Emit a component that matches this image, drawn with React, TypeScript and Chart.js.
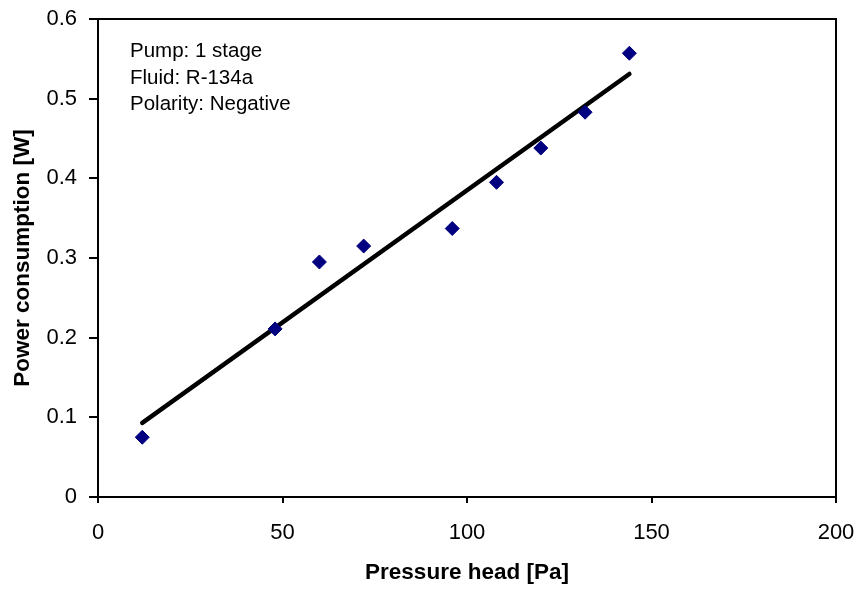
import React, { useEffect, useRef } from "react";
import { Chart, registerables } from "chart.js";

Chart.register(...registerables);

const pressureHead = [12, 48, 60, 72, 96, 108, 120, 132, 144];
const powerConsumption = [0.075, 0.211, 0.295, 0.315, 0.337, 0.395, 0.438, 0.483, 0.557];
const trendX = [12, 144];
const trendY = [0.093, 0.531];
const annotationLines = ["Pump: 1 stage", "Fluid: R-134a", "Polarity: Negative"];
const xTitle = "Pressure head [Pa]";
const yTitle = "Power consumption [W]";

const FONT = "'Liberation Sans', Arial, sans-serif";

const framePlugin = {
  id: "frameAndNotes",
  afterDraw(chart: any) {
    const { ctx, chartArea } = chart;
    ctx.save();
    ctx.strokeStyle = "#000";
    ctx.lineWidth = 2;
    ctx.strokeRect(chartArea.left, chartArea.top, chartArea.right - chartArea.left, chartArea.bottom - chartArea.top);
    ctx.fillStyle = "#000";
    ctx.font = `20.5px ${FONT}`;
    ctx.textBaseline = "alphabetic";
    ctx.textAlign = "left";
    annotationLines.forEach((t, i) => {
      ctx.fillText(t, chartArea.left + 32, chartArea.top + 38 + i * 26.5);
    });
    ctx.restore();
  },
};

export default function App() {
  const ref = useRef<HTMLCanvasElement>(null);
  useEffect(() => {
    if (!ref.current) return;
    const chart = new Chart(ref.current, {
      type: "scatter",
      data: {
        datasets: [
          {
            label: "Trend",
            type: "line",
            data: trendX.map((x, i) => ({ x, y: trendY[i] })),
            borderColor: "#000",
            borderWidth: 4.5,
            borderCapStyle: "round",
            pointRadius: 0,
            showLine: true,
            order: 2,
          } as any,
          {
            label: "Data",
            data: pressureHead.map((x, i) => ({ x, y: powerConsumption[i] })),
            pointStyle: "rectRot",
            pointRadius: 7,
            pointBackgroundColor: "#000080",
            pointBorderColor: "#000080",
            pointBorderWidth: 1,
            order: 1,
          },
        ],
      },
      options: {
        animation: false,
        responsive: false,
        layout: { padding: { left: 0, top: 19, right: 24, bottom: 0 } },
        plugins: { legend: { display: false }, tooltip: { enabled: false } },
        scales: {
          x: {
            type: "linear",
            min: 0,
            max: 200,
            ticks: { stepSize: 50, color: "#000", font: { family: FONT, size: 22 }, padding: 17, maxRotation: 0 },
            grid: { drawOnChartArea: false, drawTicks: true, tickLength: 6, color: "#000", lineWidth: 2 },
            border: { display: true, color: "#000", width: 2 },
            title: {
              display: true,
              text: xTitle,
              color: "#000",
              font: { family: FONT, size: 22.5, weight: "bold" },
              padding: { top: 0, bottom: 4 },
            },
            afterFit: (s: any) => {
              s.height = 93;
              s.paddingLeft = 0;
              s.paddingRight = 0;
            },
          },
          y: {
            type: "linear",
            min: 0,
            max: 0.6,
            ticks: {
              stepSize: 0.1,
              color: "#000",
              font: { family: FONT, size: 22 },
              padding: 12,
              callback: (v: any) => (Math.round(Number(v) * 10) / 10).toString(),
            },
            grid: { drawOnChartArea: false, drawTicks: true, tickLength: 9, color: "#000", lineWidth: 2 },
            border: { display: true, color: "#000", width: 2 },
            title: {
              display: true,
              text: yTitle,
              color: "#000",
              font: { family: FONT, size: 22.5, weight: "bold" },
              padding: { top: 9, bottom: 0 },
            },
            afterFit: (s: any) => {
              s.width = 98;
              s.paddingTop = 0;
              s.paddingBottom = 0;
            },
          },
        },
      },
      plugins: [framePlugin],
    });
    return () => chart.destroy();
  }, []);
  return (
    <div style={{ position: "fixed", left: 0, top: 0, width: 860, height: 590, background: "#fff" }}>
      <canvas ref={ref} width={860} height={590} style={{ display: "block" }} />
    </div>
  );
}
